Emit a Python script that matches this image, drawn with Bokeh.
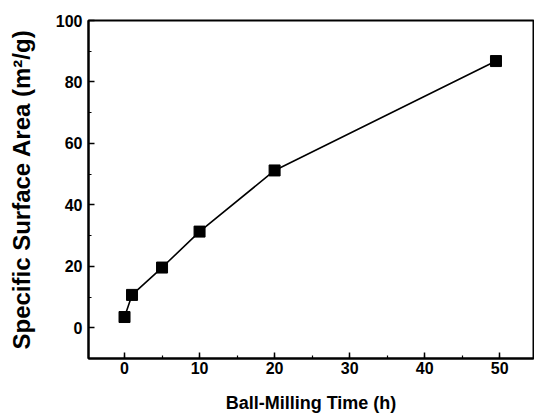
from bokeh.plotting import figure
from bokeh.models import SingleIntervalTicker, Range1d
from bokeh.embed import file_html
from bokeh.resources import INLINE

# Data
milling_time_h = [0, 1, 5, 10, 20, 49.5]
surface_area = [3.5, 10.7, 19.6, 31.3, 51.2, 86.8]

x_label = "Ball-Milling Time (h)"
y_label = "Specific Surface Area (m\u00b2/g)"

FONT = "Liberation Sans"

p = figure(width=534, height=419, output_backend="svg", toolbar_location=None,
           x_range=Range1d(-4.8, 54.5), y_range=Range1d(-10, 100),
           min_border_left=88, min_border_right=1, min_border_top=20, min_border_bottom=61)

p.line(milling_time_h, surface_area, line_color="black", line_width=1.6)
p.scatter(milling_time_h, surface_area, marker="square", size=11,
          fill_color="black", line_color="black")

p.xgrid.visible = False
p.ygrid.visible = False
p.outline_line_color = "black"
p.outline_line_width = 2
p.outline_line_alpha = 1

p.xaxis.ticker = SingleIntervalTicker(interval=10, num_minor_ticks=2)
p.yaxis.ticker = SingleIntervalTicker(interval=20, num_minor_ticks=2)

for ax in (p.xaxis, p.yaxis):
    ax.axis_line_width = 2
    ax.axis_line_color = "black"
    ax.major_tick_in = 6
    ax.major_tick_out = 0
    ax.minor_tick_in = 3
    ax.minor_tick_out = 0
    ax.major_tick_line_width = 1.5
    ax.minor_tick_line_width = 1.2
    ax.major_label_text_font = FONT
    ax.major_label_text_font_style = "bold"
    ax.major_label_text_font_size = "16px"
    ax.major_label_text_color = "black"
    ax.axis_label_text_font = FONT
    ax.axis_label_text_font_style = "bold"
    ax.axis_label_text_color = "black"

p.xaxis.axis_label = x_label
p.yaxis.axis_label = y_label
p.xaxis.axis_label_text_font_size = "18px"
p.yaxis.axis_label_text_font_size = "24px"
p.xaxis.major_label_standoff = 3
p.yaxis.major_label_standoff = 6
p.xaxis.axis_label_standoff = 16
p.yaxis.axis_label_standoff = 18

open("out.html", "w").write(file_html(p, INLINE))
